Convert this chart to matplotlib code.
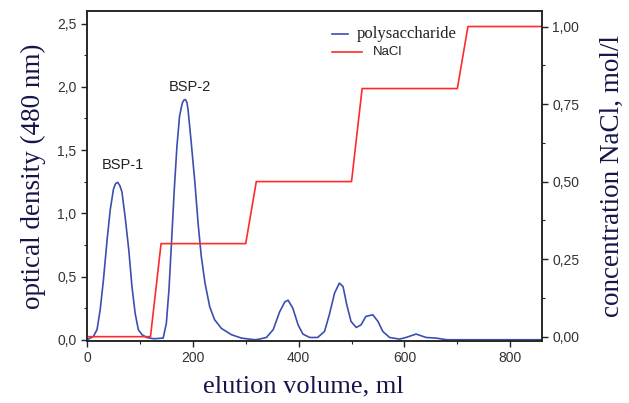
import matplotlib
matplotlib.use("Agg")
import matplotlib.pyplot as plt
from matplotlib.lines import Line2D
from matplotlib.ticker import MultipleLocator, FuncFormatter

# polysaccharide elution curve (ml, optical density)
vol = [0, 12, 19, 25, 31, 38, 44, 50, 54, 58, 62, 66, 72, 79, 85, 91, 97, 104, 113, 126,
       144, 150, 155, 160, 165, 170, 175, 180, 183, 186, 189, 191, 197, 204, 210, 216, 223,
       232, 241, 254, 273, 292, 317, 326, 339, 352, 364, 374, 380, 389, 399, 408,
       421, 436, 449, 458, 468, 477, 484, 491, 499, 509, 518, 527, 540, 550, 559,
       572, 591, 603, 622, 641, 660, 680, 860]
od = [0.0, 0.026, 0.08, 0.24, 0.47, 0.79, 1.03, 1.19, 1.235, 1.245, 1.22, 1.17, 0.975, 0.71,
      0.42, 0.21, 0.08, 0.04, 0.018, 0.008,
      0.013, 0.13, 0.40, 0.79, 1.19, 1.53, 1.77, 1.87, 1.895, 1.90, 1.875, 1.82, 1.56, 1.24,
      0.92, 0.66, 0.45, 0.26, 0.16, 0.09, 0.04, 0.013, 0.0, 0.005, 0.018, 0.08,
      0.22, 0.30, 0.313, 0.25, 0.118, 0.045, 0.018, 0.018, 0.066, 0.198, 0.37,
      0.448, 0.42, 0.277, 0.145, 0.097, 0.118, 0.184, 0.198, 0.145, 0.066, 0.018,
      0.005, 0.018, 0.045, 0.018, 0.013, 0.0, 0.0]

# NaCl step gradient (ml, mol/l)
nacl_vol = [0, 120, 140, 300, 320, 500, 520, 700, 720, 860]
nacl_conc = [0.0, 0.0, 0.30, 0.30, 0.50, 0.50, 0.80, 0.80, 1.00, 1.00]

peak_names = ["BSP-1", "BSP-2"]
peak_pos = [(68, 1.38), (194, 2.0)]

blue = "#3a4fb0"
red = "#ff2a2a"
label_col = "#15154a"
tick_col = "#333333"
serif = ["Liberation Serif", "DejaVu Serif"]
sans = ["Liberation Sans", "DejaVu Sans"]

fig = plt.figure(figsize=(6.29, 4.03), dpi=100)
ax = fig.add_axes([0.1383, 0.1538, 0.7234, 0.8189])
bx = ax.twinx()

ax.plot(vol, od, color=blue, lw=1.2)
bx.plot(nacl_vol, nacl_conc, color=red, lw=1.2)

ax.set_xlim(0, 860)
ax.set_ylim(-0.01, 2.6)
bx.set_ylim(-0.014, 1.05)

ax.xaxis.set_major_locator(MultipleLocator(200))
ax.xaxis.set_minor_locator(MultipleLocator(100))
ax.yaxis.set_major_locator(MultipleLocator(0.5))
ax.yaxis.set_minor_locator(MultipleLocator(0.25))
bx.yaxis.set_major_locator(MultipleLocator(0.25))
bx.yaxis.set_minor_locator(MultipleLocator(0.125))

ax.yaxis.set_major_formatter(FuncFormatter(lambda v, p: ("%.1f" % v).replace(".", ",")))
bx.yaxis.set_major_formatter(FuncFormatter(lambda v, p: ("%.2f" % v).replace(".", ",")))

for a in (ax, bx):
    a.tick_params(which="major", direction="out", length=4, width=1, colors="#222222",
                  labelcolor=tick_col, labelsize=10)
    a.tick_params(which="minor", direction="out", length=2.5, width=0.8, colors="#222222")
    for lab in a.get_xticklabels() + a.get_yticklabels():
        lab.set_family(sans)
    for s in a.spines.values():
        s.set_linewidth(1.1)
        s.set_color("#222222")

ax.set_xlabel("elution volume, ml", family=serif, fontsize=19, color=label_col, labelpad=7)
ax.xaxis.label.set_x(0.475)
ax.set_ylabel("optical density (480 nm)", family=serif, fontsize=19.5, color=label_col, labelpad=8)
bx.set_ylabel("concentration NaCl, mol/l", family=serif, fontsize=19.5, color=label_col, labelpad=15)

for name, (px, py) in zip(peak_names, peak_pos):
    ax.text(px, py, name, family=sans, fontsize=10.5, color="#222222", ha="center", va="center")

# legend drawn by hand: the two handles have different lengths in the original
ax.add_line(Line2D([0.538, 0.574], [0.930, 0.930], transform=ax.transAxes, color=blue, lw=1.2))
ax.text(0.593, 0.930, "polysaccharide", transform=ax.transAxes, family=serif, fontsize=12,
        color="#222222", va="center")
ax.add_line(Line2D([0.538, 0.604], [0.876, 0.876], transform=ax.transAxes, color=red, lw=1.2))
ax.text(0.629, 0.876, "NaCl", transform=ax.transAxes, family=sans, fontsize=9.5,
        color="#222222", va="center")

fig.savefig("out.png", dpi=100)
